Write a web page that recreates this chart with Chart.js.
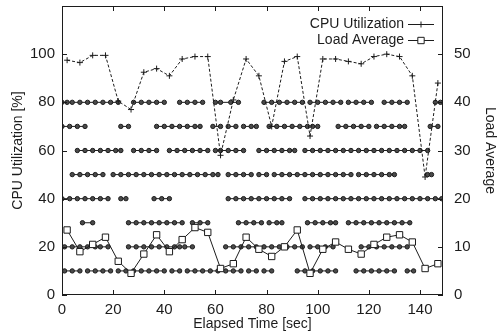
<!DOCTYPE html>
<html>
<head>
<meta charset="utf-8">
<script src="https://cdn.jsdelivr.net/npm/chart.js@4"></script>
<style>
  html, body { margin: 0; padding: 0; background: #fff; }
</style>
</head>
<body>
<canvas id="c" width="498" height="335"></canvas>
<script>
// sample times (sec)
const elapsedSec = [2, 7, 12, 17, 22, 27, 32, 37, 42, 47, 52, 57, 62, 67, 72, 77, 82, 87, 92, 97, 102, 107, 112, 117, 122, 127, 132, 137, 142, 147]
// CPU utilization [%] (left axis)
const cpuUtil = [97.5, 96.5, 99.5, 99.5, 80.5, 77, 92.5, 94, 91, 98, 99, 99, 58, 81, 98, 91, 70, 97, 99, 66, 98, 98, 97, 96, 99, 100, 99, 91, 49, 88]
// load average (right axis)
const loadAvg = [13.5, 9, 10.5, 12, 7, 4.5, 8.5, 12.5, 9, 11.5, 14, 13, 5.5, 6.5, 12, 9.5, 8, 10, 13.5, 4.5, 9.5, 11, 9.5, 8.5, 10.5, 12, 12.5, 11, 5.5, 6.5]

// per-host activity lanes, drawn at fixed levels of the left axis
const laneLevels = [80, 70, 60, 50, 40, 30, 20, 10]
const lane80 = [[0, 2, 4, 7, 10, 13, 16, 19, 22], [28, 31, 34, 37, 40], [46, 49, 52, 55], [60, 62, 66, 69], [79, 82, 85, 88, 91, 94], [97, 100, 103, 106, 109], [112, 115, 118, 121], [126, 129, 132, 135], [146, 148]]
const lane70 = [[0, 3, 6, 9], [23, 26], [37, 40, 43, 46, 49, 52, 54], [59, 62], [65, 68], [71, 74, 76], [81, 84, 87, 90, 93, 96], [98, 100], [108, 111, 114, 117, 120], [123, 126, 129, 132, 134], [144, 147]]
const lane60 = [[6, 9, 12, 15, 18, 21, 23], [28, 31, 34, 37], [42, 45, 48, 51, 54, 57], [60, 62, 65, 68, 71], [77, 80, 83, 86, 89, 91], [95, 98, 101, 104, 107, 110, 113, 116, 119, 122, 125, 128, 131, 134, 137, 140, 143]]
const lane50 = [[4, 7, 10, 13, 16], [20, 23, 26, 29, 32, 35, 38, 41, 44, 47, 50, 53, 56, 59, 61], [65, 68, 71, 74], [77, 80], [83, 86, 89, 92, 95, 98, 101, 104, 107, 110, 113], [116, 119, 122, 125, 128, 130], [143, 144.5]]
const lane40 = [[0, 3, 6, 9, 12, 15, 18], [23, 25], [36, 39, 42], [65, 68, 71, 74, 77, 80, 83, 86, 89], [95, 98, 101, 104, 107, 110, 113, 116, 119, 122, 125, 128, 131, 134, 137, 140, 143, 146, 148.5]]
const lane30 = [[8, 12], [26, 29, 32, 35, 38, 41, 44, 47], [51, 54, 57], [69, 72, 75, 78], [81, 84, 86], [96, 99, 102, 105, 107], [112, 115, 118, 121, 124, 127, 130, 133, 136]]
const lane20 = [[1, 4, 7, 10, 13, 15, 18], [26, 29, 32, 35, 38, 41, 44, 46], [48, 51], [64, 67, 70, 73, 76, 79, 82, 85, 88, 91, 94], [97, 100, 103, 106], [117, 120, 123, 126, 129, 132, 135]]
const lane10 = [[1, 4, 7], [10, 13, 16, 19], [22, 25], [28, 31, 34, 37, 40], [43, 46], [49, 52, 55, 58, 61, 64, 67, 70], [73, 76], [79, 82], [92, 95, 98, 101, 104, 107], [115, 118, 121, 124, 127, 130], [135, 137.5]]
const lanes = [lane80, lane70, lane60, lane50, lane40, lane30, lane20, lane10]

const ink = '#1c1c1c'
const font = '"Liberation Sans", Arial, Helvetica, sans-serif'

// segments -> points, with a null point between segments to break the line
function lanePoints(segments, level) {
    const pts = []
    segments.forEach((seg, i) => {
        if (i > 0) pts.push({ x: seg[0] - 0.5, y: null })
        seg.forEach(x => pts.push({ x, y: level }))
    })
    return pts
}

const laneSets = lanes.map((segs, i) => ({
    label: 'lane' + laneLevels[i],
    data: lanePoints(segs, laneLevels[i]),
    yAxisID: 'y',
    borderColor: ink,
    borderWidth: 1,
    pointStyle: 'circle',
    pointRadius: 2.2,
    pointBorderWidth: 1,
    pointBorderColor: ink,
    pointBackgroundColor: '#4a4a4a',
    spanGaps: false,
    order: 3
}))

const cpuSet = {
    label: 'CPU Utilization',
    data: elapsedSec.map((x, i) => ({ x, y: cpuUtil[i] })),
    yAxisID: 'y',
    borderColor: ink,
    borderWidth: 1,
    borderDash: [3, 2],
    pointStyle: 'cross',
    pointRadius: 3,
    pointBorderWidth: 1,
    pointBorderColor: ink,
    keyRow: 0,
    order: 1
}

const loadSet = {
    label: 'Load Average',
    data: elapsedSec.map((x, i) => ({ x, y: loadAvg[i] })),
    yAxisID: 'y2',
    borderColor: ink,
    borderWidth: 1,
    pointStyle: 'rect',
    pointRadius: 4.5,
    pointBorderWidth: 1,
    pointBorderColor: ink,
    pointBackgroundColor: '#fff',
    keyRow: 1,
    order: 2
}

// gnuplot-like frame, inward ticks and key
const frameTicks = {
    id: 'frameTicks',
    afterDraw(chart) {
        const { ctx, chartArea: a, scales } = chart
        ctx.save()
        ctx.strokeStyle = ink
        ctx.lineWidth = 1
        ctx.setLineDash([])
        ctx.strokeRect(a.left + 0.5, a.top + 0.5, a.right - a.left - 1, a.bottom - a.top - 1)
        ctx.beginPath()
        const tl = 5
        scales.x.ticks.forEach(t => {
            const px = Math.round(scales.x.getPixelForValue(t.value)) + 0.5
            ctx.moveTo(px, a.bottom); ctx.lineTo(px, a.bottom - tl)
            ctx.moveTo(px, a.top); ctx.lineTo(px, a.top + tl)
        })
        scales.y.ticks.forEach(t => {
            if (t.value > 100) return
            const py = Math.round(scales.y.getPixelForValue(t.value)) + 0.5
            ctx.moveTo(a.left, py); ctx.lineTo(a.left + tl, py)
        })
        scales.y2.ticks.forEach(t => {
            if (t.value > 50) return
            const py = Math.round(scales.y2.getPixelForValue(t.value)) + 0.5
            ctx.moveTo(a.right, py); ctx.lineTo(a.right - tl, py)
        })
        ctx.stroke()

        // key
        const keyRight = 404
        const sx0 = 408, sx1 = 434
        ctx.font = '14px ' + font
        ctx.textAlign = 'right'
        ctx.textBaseline = 'middle'
        chart.data.datasets
            .filter(d => d.keyRow !== undefined)
            .forEach(d => {
                const y = 24 + d.keyRow * 16
                ctx.fillStyle = ink
                ctx.fillText(d.label, keyRight, y)
                ctx.beginPath()
                ctx.moveTo(sx0, y + 0.5); ctx.lineTo(sx1, y + 0.5)
                ctx.stroke()
                ctx.fillStyle = '#fff'
                Chart.helpers.drawPoint(ctx, {
                    pointStyle: d.pointStyle,
                    radius: d.pointRadius,
                    borderWidth: 1
                }, (sx0 + sx1) / 2, y + 0.5)
            })
        ctx.restore()
    }
}

Chart.defaults.font.family = font
Chart.defaults.color = ink

const noGrid = { display: false, drawTicks: false }

// fixed axis boxes so the plot area lands where the original has it
function fixBox(size) {
    return s => {
        if (s.isHorizontal()) s.height = size
        else s.width = size
        s.paddingTop = 0
        s.paddingBottom = 0
        s.paddingLeft = 0
        s.paddingRight = 0
    }
}

new Chart(document.getElementById('c'), {
    type: 'line',
    data: { datasets: [...laneSets, loadSet, cpuSet] },
    options: {
        responsive: false,
        animation: false,
        devicePixelRatio: 1,
        layout: { padding: { top: 6, left: 0, right: 0, bottom: 0 } },
        plugins: {
            legend: { display: false },
            tooltip: { enabled: false }
        },
        scales: {
            x: {
                type: 'linear',
                min: 0,
                max: 149,
                grid: noGrid,
                border: { display: false },
                ticks: { stepSize: 20, includeBounds: false, padding: 6, font: { size: 15 }, maxRotation: 0 },
                title: { display: true, text: 'Elapsed Time [sec]', font: { size: 14 }, padding: { top: 0, bottom: 2 } },
                afterFit: fixBox(40)
            },
            y: {
                type: 'linear',
                position: 'left',
                min: 0,
                max: 120,
                grid: noGrid,
                border: { display: false },
                ticks: { stepSize: 20, includeBounds: false, padding: 7, font: { size: 15 },
                    callback: v => (v <= 100 ? v : null) },
                title: { display: true, text: 'CPU Utilization [%]', font: { size: 14 }, padding: { top: 10, bottom: 0 } },
                afterFit: fixBox(62)
            },
            y2: {
                type: 'linear',
                position: 'right',
                min: 0,
                max: 60,
                grid: noGrid,
                border: { display: false },
                ticks: { stepSize: 10, includeBounds: false, padding: 11, font: { size: 15 },
                    callback: v => (v <= 50 ? v : null) },
                title: { display: true, text: 'Load Average', font: { size: 14 }, padding: { top: 0, bottom: 0 } },
                afterFit: fixBox(55)
            }
        }
    },
    plugins: [frameTicks]
})
</script>
</body>
</html>
